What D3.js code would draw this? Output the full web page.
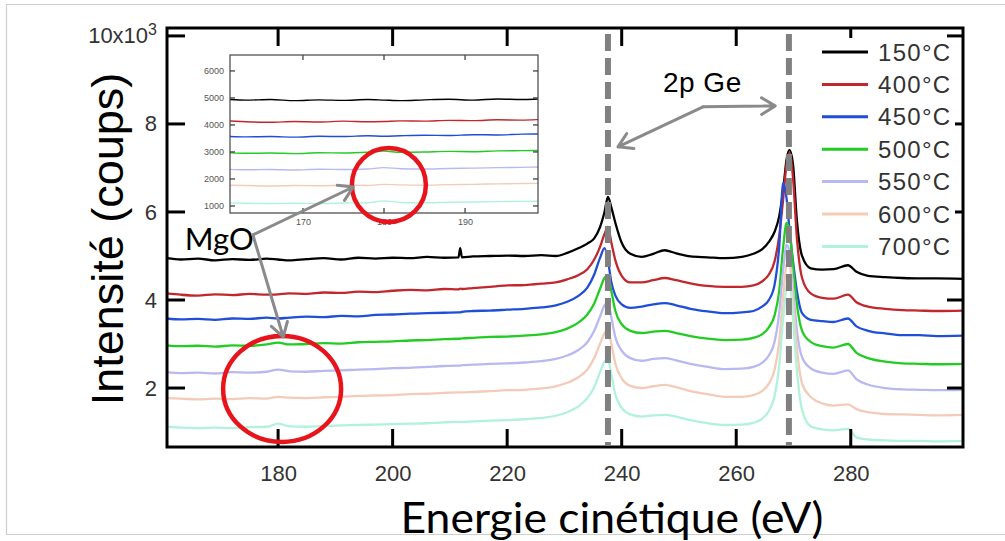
<!DOCTYPE html>
<html><head><meta charset="utf-8">
<script src="https://cdn.jsdelivr.net/npm/d3@7/dist/d3.min.js"></script>
<style>
html,body{margin:0;padding:0;background:#fff;}
svg{display:block;}
</style></head>
<body>
<svg id="chart" width="1005" height="541"></svg>
<script>
// ---------- DATA ----------
const energy = [160.6,163,166,169,172,175,178,180,182,185,188,191,194,197,200,203,206,209,211.5,211.8,212.1,214,217,220,223,226,228.5,230.5,232.5,234,235.2,236.2,237,237.6,238.2,238.9,240,241.5,243.5,245.5,247.5,249.5,252,255,258,261,263,264.5,265.7,266.7,267.5,268.2,268.8,269.3,269.9,270.6,271.5,273,275,277,279.5,281,283,286,289,292,295,299.6];

const s150 = [4.95,4.92,4.94,4.90,4.93,4.91,4.94,4.92,4.90,4.93,4.95,4.92,4.96,4.94,4.96,4.95,4.98,4.96,4.97,5.18,4.97,4.99,5.00,5.01,5.00,5.02,5.00,5.07,5.18,5.28,5.40,5.65,6.00,6.34,6.10,5.75,5.30,5.05,4.98,5.05,5.13,5.06,4.99,4.97,4.95,4.98,5.05,5.15,5.32,5.55,5.90,6.50,7.20,7.41,7.10,5.80,5.00,4.72,4.69,4.70,4.79,4.64,4.55,4.52,4.50,4.49,4.49,4.48];
const s400 = [4.15,4.12,4.10,4.13,4.11,4.14,4.12,4.13,4.15,4.14,4.17,4.16,4.19,4.18,4.21,4.23,4.22,4.25,4.24,4.26,4.25,4.27,4.30,4.33,4.34,4.37,4.40,4.47,4.57,4.70,4.92,5.20,5.50,5.66,5.30,4.90,4.55,4.40,4.40,4.45,4.50,4.45,4.38,4.32,4.30,4.30,4.33,4.42,4.58,4.88,5.45,6.30,7.10,7.34,6.80,5.40,4.50,4.15,4.05,4.03,4.12,3.95,3.85,3.80,3.77,3.76,3.75,3.76];
const s450 = [3.58,3.56,3.57,3.55,3.58,3.57,3.60,3.58,3.60,3.62,3.61,3.64,3.63,3.66,3.67,3.69,3.70,3.71,3.72,3.72,3.73,3.75,3.76,3.78,3.80,3.83,3.88,3.96,4.10,4.28,4.58,4.95,5.18,4.90,4.40,4.10,3.90,3.82,3.85,3.90,3.93,3.88,3.80,3.74,3.70,3.72,3.75,3.85,4.00,4.35,5.20,6.66,6.30,5.60,4.90,4.20,3.70,3.55,3.52,3.50,3.58,3.40,3.30,3.24,3.20,3.20,3.18,3.19];
const s500 = [2.97,2.95,2.96,2.94,2.97,2.96,2.99,3.03,2.99,3.00,3.02,3.01,3.04,3.05,3.06,3.08,3.09,3.11,3.12,3.12,3.13,3.14,3.16,3.17,3.19,3.22,3.27,3.35,3.49,3.67,3.92,4.25,4.50,4.57,4.20,3.75,3.45,3.30,3.25,3.28,3.30,3.25,3.18,3.12,3.09,3.10,3.14,3.22,3.38,3.65,4.20,5.20,5.75,5.60,4.80,3.90,3.30,3.05,2.95,2.92,3.00,2.80,2.68,2.60,2.56,2.55,2.54,2.55];
const s550 = [2.36,2.34,2.35,2.33,2.36,2.35,2.37,2.42,2.38,2.37,2.39,2.40,2.42,2.43,2.45,2.46,2.48,2.50,2.51,2.51,2.52,2.53,2.55,2.56,2.58,2.61,2.66,2.74,2.87,3.04,3.30,3.62,3.88,3.95,3.60,3.15,2.85,2.68,2.62,2.66,2.68,2.63,2.55,2.48,2.43,2.44,2.48,2.57,2.74,3.05,3.70,4.70,5.25,5.10,4.30,3.30,2.70,2.45,2.35,2.32,2.40,2.20,2.08,2.00,1.97,1.96,1.95,1.96];
const s600 = [1.77,1.76,1.74,1.76,1.75,1.77,1.76,1.80,1.78,1.77,1.79,1.80,1.82,1.83,1.84,1.86,1.87,1.89,1.90,1.90,1.90,1.91,1.93,1.95,1.96,1.99,2.04,2.12,2.25,2.42,2.68,3.00,3.25,3.32,3.00,2.55,2.22,2.05,2.00,2.04,2.07,2.02,1.93,1.86,1.80,1.80,1.84,1.93,2.10,2.42,3.05,4.10,4.80,4.84,4.00,2.90,2.10,1.80,1.65,1.60,1.63,1.52,1.45,1.41,1.40,1.39,1.38,1.39];
const s700 = [1.12,1.10,1.09,1.10,1.09,1.11,1.12,1.19,1.13,1.12,1.14,1.15,1.16,1.17,1.18,1.19,1.20,1.22,1.23,1.23,1.23,1.24,1.26,1.27,1.29,1.32,1.37,1.45,1.59,1.77,2.02,2.35,2.60,2.64,2.30,1.85,1.55,1.40,1.35,1.38,1.39,1.35,1.27,1.20,1.16,1.17,1.21,1.30,1.48,1.82,2.50,3.60,4.30,4.45,3.60,2.40,1.50,1.13,1.06,1.04,1.07,0.88,0.83,0.81,0.80,0.80,0.79,0.80];

const seriesLabels = ["150°C","400°C","450°C","500°C","550°C","600°C","700°C"];
const seriesValues = [s150,s400,s450,s500,s550,s600,s700];
const seriesColors = ["#000000","#c1272d","#1f4ed8","#22cc22","#b9b9f2","#f3cbb8","#b2f2da"];

const xTicks = [180,200,220,240,260,280];
const yTicks = [2,4,6,8,10];
const peakEnergies = [237.6,269.2];
const insetXTicks = [170,180,190];
const insetYTicks = [1000,2000,3000,4000,5000,6000];

// ---------- LAYOUT ----------
const svg = d3.select("#chart");
const L = 167, R = 963, T = 28, B = 447;
const x = d3.scaleLinear().domain([160.6, 299.6]).range([L, R]);
const y = d3.scaleLinear().domain([0.66, 10.18]).range([B, T]);

// outer light frame
svg.append("path").attr("d","M1006,4.5 H6.5 V534.5 H1006")
  .attr("fill","none").attr("stroke","#cfcfcf").attr("stroke-width",1.2);

// curves
const line = d3.line().x(d=>x(d[0])).y(d=>y(d[1])).curve(d3.curveMonotoneX);
const curves = svg.append("g");
seriesValues.forEach((vals,i)=>{
  curves.append("path")
    .datum(energy.map((e,j)=>[e, vals[j]]))
    .attr("d", line).attr("fill","none")
    .attr("stroke", seriesColors[i]).attr("stroke-width", 2.3)
    .attr("stroke-linejoin","round");
});

// dashed lines at peaks
svg.append("g").selectAll("line").data(peakEnergies).join("line")
  .attr("x1", d=>x(d)).attr("x2", d=>x(d))
  .attr("y1", T+6).attr("y2", B-2)
  .attr("stroke","#808080").attr("stroke-width",6)
  .attr("stroke-dasharray","17,7");

// axes (labels through d3 axes)
const axFont = "'Liberation Sans', Arial, sans-serif";
const gx = svg.append("g").attr("transform",`translate(0,${B})`)
  .call(d3.axisBottom(x).tickValues(xTicks).tickSize(0).tickPadding(18));
const gy = svg.append("g").attr("transform",`translate(${L},0)`)
  .call(d3.axisLeft(y).tickValues(yTicks).tickSize(0).tickPadding(10));
[gx,gy].forEach(g=>{
  g.select(".domain").remove();
  g.selectAll(".tick text").attr("fill","#333").style("font-family",axFont).style("font-size","22px");
});
gy.selectAll(".tick text").filter(d=>d===10).text("10x10")
  .append("tspan").attr("dy","-0.55em").style("font-size","16px").text("3");

// frame
svg.append("rect").attr("x",L).attr("y",T).attr("width",R-L).attr("height",B-T)
  .attr("fill","none").attr("stroke","#000").attr("stroke-width",3);

// inward tick marks as filled rectangles, placed by the scales
const tg = svg.append("g").attr("fill","#000");
xTicks.forEach(v=>{
  tg.append("rect").attr("x",x(v)-1.5).attr("y",B-18).attr("width",3).attr("height",18);
  tg.append("rect").attr("x",x(v)-1.5).attr("y",T).attr("width",3).attr("height",18);
});
yTicks.forEach(v=>{
  tg.append("rect").attr("x",L).attr("y",y(v)-1.5).attr("width",18).attr("height",3);
  tg.append("rect").attr("x",R-16).attr("y",y(v)-1.5).attr("width",16).attr("height",3);
});

// legend
const lg = svg.append("g");
lg.append("rect").attr("x",815).attr("y",38).attr("width",140).attr("height",224).attr("fill","#fff");
seriesLabels.forEach((lab,i)=>{
  const yy = 52 + i*32.4;
  lg.append("line").attr("x1",822).attr("x2",868).attr("y1",yy).attr("y2",yy)
    .attr("stroke",seriesColors[i]).attr("stroke-width",3);
  lg.append("text").attr("x",878).attr("y",yy).attr("dy","0.36em")
    .style("font-family",axFont).style("font-size","24px").style("letter-spacing","1.3px")
    .attr("fill","#333").text(lab);
});

// axis titles
svg.append("text").attr("transform","translate(123,239) rotate(-90)")
  .attr("text-anchor","middle").style("font-family",axFont).style("font-size","45px")
  .attr("fill","#000").text("Intensité (coups)");
svg.append("text").attr("x",612).attr("y",533).attr("text-anchor","middle")
  .style("font-family","Lato, 'Open Sans', sans-serif").style("font-size","43px")
  .attr("textLength",423).attr("lengthAdjust","spacingAndGlyphs")
  .attr("fill","#000").text("Energie cinétique (eV)");

// ---------- INSET ----------
const iL=230, iR=538, iT=55, iB=213;
const ix = d3.scaleLinear().domain([161,199]).range([iL,iR]);
const iy = d3.scaleLinear().domain([740,6590]).range([iB,iT]);
const inset = svg.append("g");
inset.append("rect").attr("x",iL).attr("y",iT).attr("width",iR-iL).attr("height",iB-iT).attr("fill","#fff");
svg.append("clipPath").attr("id","iclip").append("rect")
  .attr("x",iL).attr("y",iT).attr("width",iR-iL).attr("height",iB-iT);
const iline = d3.line().x(d=>ix(d[0])).y(d=>iy(d[1]*1000)).curve(d3.curveMonotoneX);
const ic = inset.append("g").attr("clip-path","url(#iclip)");
seriesValues.forEach((vals,i)=>{
  const pts = energy.map((e,j)=>[e, vals[j]]).filter(d=>d[0]>=158 && d[0]<=203);
  ic.append("path").datum(pts).attr("d",iline).attr("fill","none")
    .attr("stroke",seriesColors[i]).attr("stroke-width",1.4);
});
const ifont = "'Liberation Sans', Arial, sans-serif";
const igx = inset.append("g").attr("transform",`translate(0,${iB})`)
  .call(d3.axisBottom(ix).tickValues(insetXTicks).tickSize(0).tickPadding(6).tickFormat(d3.format("d")));
const igy = inset.append("g").attr("transform",`translate(${iL},0)`)
  .call(d3.axisLeft(iy).tickValues(insetYTicks).tickSize(0).tickPadding(6).tickFormat(d3.format("d")));
[igx,igy].forEach(g=>{
  g.select(".domain").remove();
  g.selectAll(".tick text").attr("fill","#555").style("font-family",ifont).style("font-size","9px");
});
const itg = inset.append("g").attr("fill","#333");
insetXTicks.forEach(v=>{
  itg.append("rect").attr("x",ix(v)-0.6).attr("y",iB-5).attr("width",1.2).attr("height",5);
  itg.append("rect").attr("x",ix(v)-0.6).attr("y",iT).attr("width",1.2).attr("height",5);
});
insetYTicks.forEach(v=>{
  itg.append("rect").attr("x",iL).attr("y",iy(v)-0.6).attr("width",5).attr("height",1.2);
  itg.append("rect").attr("x",iR-5).attr("y",iy(v)-0.6).attr("width",5).attr("height",1.2);
});
inset.append("rect").attr("x",iL).attr("y",iT).attr("width",iR-iL).attr("height",iB-iT)
  .attr("fill","none").attr("stroke","#444").attr("stroke-width",1.2);

// ---------- ANNOTATIONS ----------
const ann = svg.append("g");
function arrow(x0,y0,x1,y1,color,w){
  const a = Math.atan2(y1-y0,x1-x0), h=16, sp=0.55;
  ann.append("path")
    .attr("d",`M${x0},${y0}L${x1},${y1}M${x1-h*Math.cos(a-sp)},${y1-h*Math.sin(a-sp)}L${x1},${y1}L${x1-h*Math.cos(a+sp)},${y1-h*Math.sin(a+sp)}`)
    .attr("fill","none").attr("stroke",color).attr("stroke-width",w)
    .attr("stroke-linecap","round").attr("stroke-linejoin","round");
}
// red circles (MgO region)
ann.append("ellipse").attr("cx",x(180.7)).attr("cy",y(1.98)).attr("rx",59).attr("ry",53)
  .attr("fill","none").attr("stroke","#e8141c").attr("stroke-width",4.5);
ann.append("circle").attr("cx",ix(180.6)).attr("cy",iy(1777)).attr("r",37)
  .attr("fill","none").attr("stroke","#e8141c").attr("stroke-width",4.5);
// MgO label + arrows
ann.append("text").attr("x",x(163.7)).attr("y",y(5.14))
  .style("font-family","Lato, 'Open Sans', sans-serif").style("font-size","31px")
  .attr("fill","#000").text("MgO");
arrow(x(175.6),y(5.48),ix(176.2),iy(1703),"#8a8a8a",3);
arrow(x(175.6),y(5.48),x(180.9),y(3.16),"#8a8a8a",3);
// 2p Ge label + arrows
ann.append("text").attr("x",x(247.2)).attr("y",y(8.73))
  .style("font-family",axFont).style("font-size","28px").style("letter-spacing","0.5px")
  .attr("fill","#000").text("2p Ge");
arrow(x(254.2),y(8.39),x(239.35),y(7.48),"#8a8a8a",3);
arrow(x(254.2),y(8.39),x(266.8),y(8.41),"#8a8a8a",3);
</script>
</body></html>
